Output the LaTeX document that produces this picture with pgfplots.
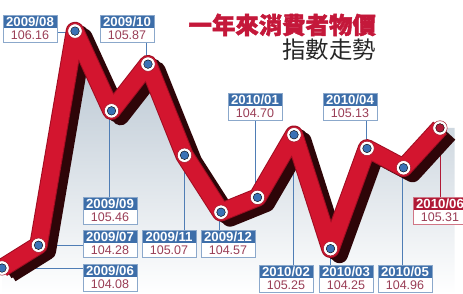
\documentclass[border=0pt]{standalone}
\usepackage{pgfplots}
\pgfplotsset{compat=1.18}
\usepackage{pgfplotstable}
\usepackage{fontspec}
\setmainfont{Liberation Sans}
\newfontfamily\cjk{Noto Sans CJK TC}
\newfontfamily\cjkb{Noto Sans CJK TC}[BoldFeatures={FakeBold=2}]
\definecolor{rib}{HTML}{D3152F}
\definecolor{ribedge}{HTML}{A00D22}
\definecolor{ribdark}{HTML}{2E0508}
\definecolor{hdr}{HTML}{3D6EA9}
\definecolor{hdrred}{HTML}{B01A36}
\definecolor{val}{HTML}{9A3E56}
\definecolor{ttl}{HTML}{C4183A}
\definecolor{mk}{HTML}{3A72B5}
\definecolor{conn}{HTML}{4F7DB5}
\definecolor{shd}{HTML}{B3C1CE}

\pgfplotstableread{
i v
0 104.08
1 104.28
2 106.16
3 105.46
4 105.87
5 105.07
6 104.57
7 104.70
8 105.25
9 104.25
10 105.13
11 104.96
12 105.31
}\cpi

\pgfplotsset{base/.style={scale only axis, width=463pt, height=294pt,
  xmin=-0.055, xmax=12.63, ymin=103.852, ymax=106.433,
  axis lines=none, clip=false, at={(0,0)}, anchor=south west}}

\newcommand\lab[5]{%
  \fill[white] (#1,#2) rectangle ({#1+54},{#2+27});
  \fill[#5] (#1,#2) rectangle ({#1+54},{#2+13});
  \draw[#5!60!white, line width=0.6pt] (#1,#2) rectangle ({#1+54},{#2+27});
  \node[white, font=\bfseries\fontsize{13.2}{13}\selectfont, inner sep=0pt] at ({#1+27},{#2+6.8}) {#3};
  \node[val, font=\fontsize{12.5}{12}\selectfont, inner sep=0pt] at ({#1+27},{#2+20.5}) {#4};
}

\begin{document}
\begin{tikzpicture}
\path[use as bounding box] (0,0) rectangle (463pt,294pt);

% background fill under the curve
\begin{axis}[base]
\addplot[draw=none, top color=shd, bottom color=white] coordinates {
(0,103.852) (0,104.08) (1,104.28) (2,106.16) (3,105.46) (4,105.87) (5,105.07)
(6,104.57) (7,104.70) (8,105.25) (9,104.25) (10,105.13) (11,104.96) (12,105.31) (12.4,105.31) (12.4,103.852)} -- cycle;
\end{axis}

% connectors
\begin{scope}[shift={(0pt,294pt)}, x=1pt, y=-1pt]
\draw[conn, line width=0.8pt] (57,32) -- (73,32);
\draw[conn, line width=0.8pt] (146,42) -- (146,65);
\draw[conn, line width=0.8pt] (109,111) -- (109,197);
\draw[conn, line width=0.8pt] (36,245) -- (83,245);
\draw[conn, line width=0.8pt] (2,268) -- (83,268);
\draw[conn, line width=0.8pt] (184,157) -- (184,230);
\draw[conn, line width=0.8pt] (219,213) -- (219,230);
\draw[conn, line width=0.8pt] (255,121) -- (255,198);
\draw[conn, line width=0.8pt] (293,135) -- (293,265);
\draw[conn, line width=0.8pt] (330,249) -- (330,265);
\draw[conn, line width=0.8pt] (366,120) -- (366,149);
\draw[conn, line width=0.8pt] (402,168) -- (402,265);
\draw[hdrred, line width=0.8pt] (440,128) -- (440,197);
\end{scope}

% ribbon
\begin{axis}[base]
\addplot[ribdark, line width=17pt, line join=round, xshift=5pt, yshift=-3pt] table[x=i,y=v] {\cpi};
\addplot[ribdark, line width=17pt, line join=round, xshift=9pt, yshift=-6pt] table[x=i,y=v] {\cpi};
\addplot[ribedge, line width=18.5pt, line join=round] table[x=i,y=v] {\cpi};
\addplot[rib, line width=16.5pt, line join=round] table[x=i,y=v] {\cpi};
\addplot[only marks, mark=*, mark size=7.2pt, mark options={fill=white, draw=ribedge, line width=0.5pt}] table[x=i,y=v] {\cpi};
\addplot[only marks, mark=*, mark size=4.3pt, mark options={fill=mk, draw=none}, restrict x to domain=0:11] table[x=i,y=v] {\cpi};
\addplot[only marks, mark=*, mark size=4.3pt, mark options={fill=hdrred, draw=none}] coordinates {(12,105.31)};
\end{axis}

% labels and title
\begin{scope}[shift={(0pt,294pt)}, x=1pt, y=-1pt]
\lab{3}{15}{2009/08}{106.16}{hdr}
\lab{100}{15}{2009/10}{105.87}{hdr}
\lab{83}{197}{2009/09}{105.46}{hdr}
\lab{83}{230}{2009/07}{104.28}{hdr}
\lab{83}{264}{2009/06}{104.08}{hdr}
\lab{142}{230}{2009/11}{105.07}{hdr}
\lab{201}{230}{2009/12}{104.57}{hdr}
\lab{228}{93}{2010/01}{104.70}{hdr}
\lab{323}{93}{2010/04}{105.13}{hdr}
\lab{259}{265}{2010/02}{105.25}{hdr}
\lab{319}{265}{2010/03}{104.25}{hdr}
\lab{378}{265}{2010/05}{104.96}{hdr}
\lab{413}{197}{2010/06}{105.31}{hdrred}
\node[ttl, anchor=east, inner sep=0pt, font=\cjkb\bfseries\fontsize{23.4}{24}\selectfont] at (376,25) {一年來消費者物價};
\node[black!85, anchor=east, inner sep=0pt, font=\cjk\fontsize{23.4}{24}\selectfont] at (376,50) {指數走勢};
\end{scope}
\end{tikzpicture}
\end{document}
